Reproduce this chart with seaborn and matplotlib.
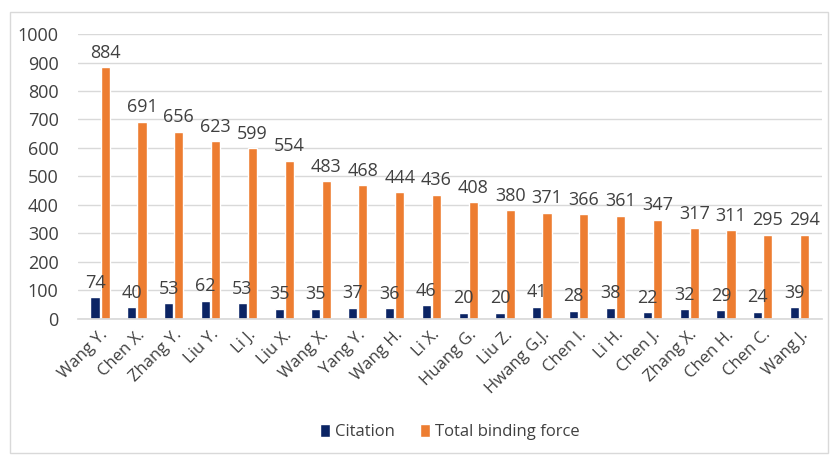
import numpy as np
import pandas as pd
import matplotlib
matplotlib.use("Agg")
import matplotlib.pyplot as plt
import seaborn as sns

authors = ["Wang Y.", "Chen X.", "Zhang Y.", "Liu Y.", "Li J.", "Liu X.", "Wang X.",
           "Yang Y.", "Wang H.", "Li X.", "Huang G.", "Liu Z.", "Hwang G.J.", "Chen I.",
           "Li H.", "Chen J.", "Zhang X.", "Chen H.", "Chen C.", "Wang J."]
citation = [74, 40, 53, 62, 53, 35, 35, 37, 36, 46, 20, 20, 41, 28, 38, 22, 32, 29, 24, 39]
binding = [884, 691, 656, 623, 599, 554, 483, 468, 444, 436, 408, 380, 371, 366, 361,
           347, 317, 311, 295, 294]
series = ["Citation", "Total binding force"]
colors = ["#0b2464", "#ed7d31"]

df = pd.DataFrame({
    "author": authors * 2,
    "series": [series[0]] * len(authors) + [series[1]] * len(authors),
    "value": citation + binding,
})

sns.set_theme(style="white")
plt.rcParams["font.family"] = ["Open Sans", "DejaVu Sans"]

fig = plt.figure(figsize=(8.3, 4.55), dpi=100)
ax = fig.add_axes([0.094, 0.30, 0.896, 0.625])

sns.barplot(data=df, x="author", y="value", hue="series", palette=colors,
            width=0.55, gap=0.1, ax=ax, saturation=1, legend=True)

for cont in ax.containers:
    ax.bar_label(cont, fontsize=13, color="#404040", padding=4)

ax.set_ylim(0, 1000)
ax.set_yticks(range(0, 1001, 100))
ax.yaxis.grid(True, color="#d9d9d9", linewidth=1)
ax.set_axisbelow(True)
for s in ["top", "right", "left"]:
    ax.spines[s].set_visible(False)
ax.spines["bottom"].set_color("#d9d9d9")
ax.tick_params(axis="y", labelsize=13, colors="#404040", length=0, pad=14)
ax.tick_params(axis="x", labelsize=12, colors="#404040", length=0, pad=6)
plt.setp(ax.get_xticklabels(), rotation=45, ha="right", rotation_mode="anchor")
ax.set_xlabel("")
ax.set_ylabel("")
ax.set_xlim(-0.6, len(authors) - 0.4)

ax.legend(loc="center", bbox_to_anchor=(0.5, -0.40), ncol=2, frameon=False,
          fontsize=12, handlelength=0.6, handleheight=0.8, columnspacing=1.5,
          handletextpad=0.3, labelcolor="#404040")

fig.add_artist(plt.Rectangle((0.012, 0.005), 0.985, 0.968, transform=fig.transFigure,
                             fill=False, edgecolor="#d9d9d9", linewidth=1))

fig.savefig("out.png", dpi=100)
